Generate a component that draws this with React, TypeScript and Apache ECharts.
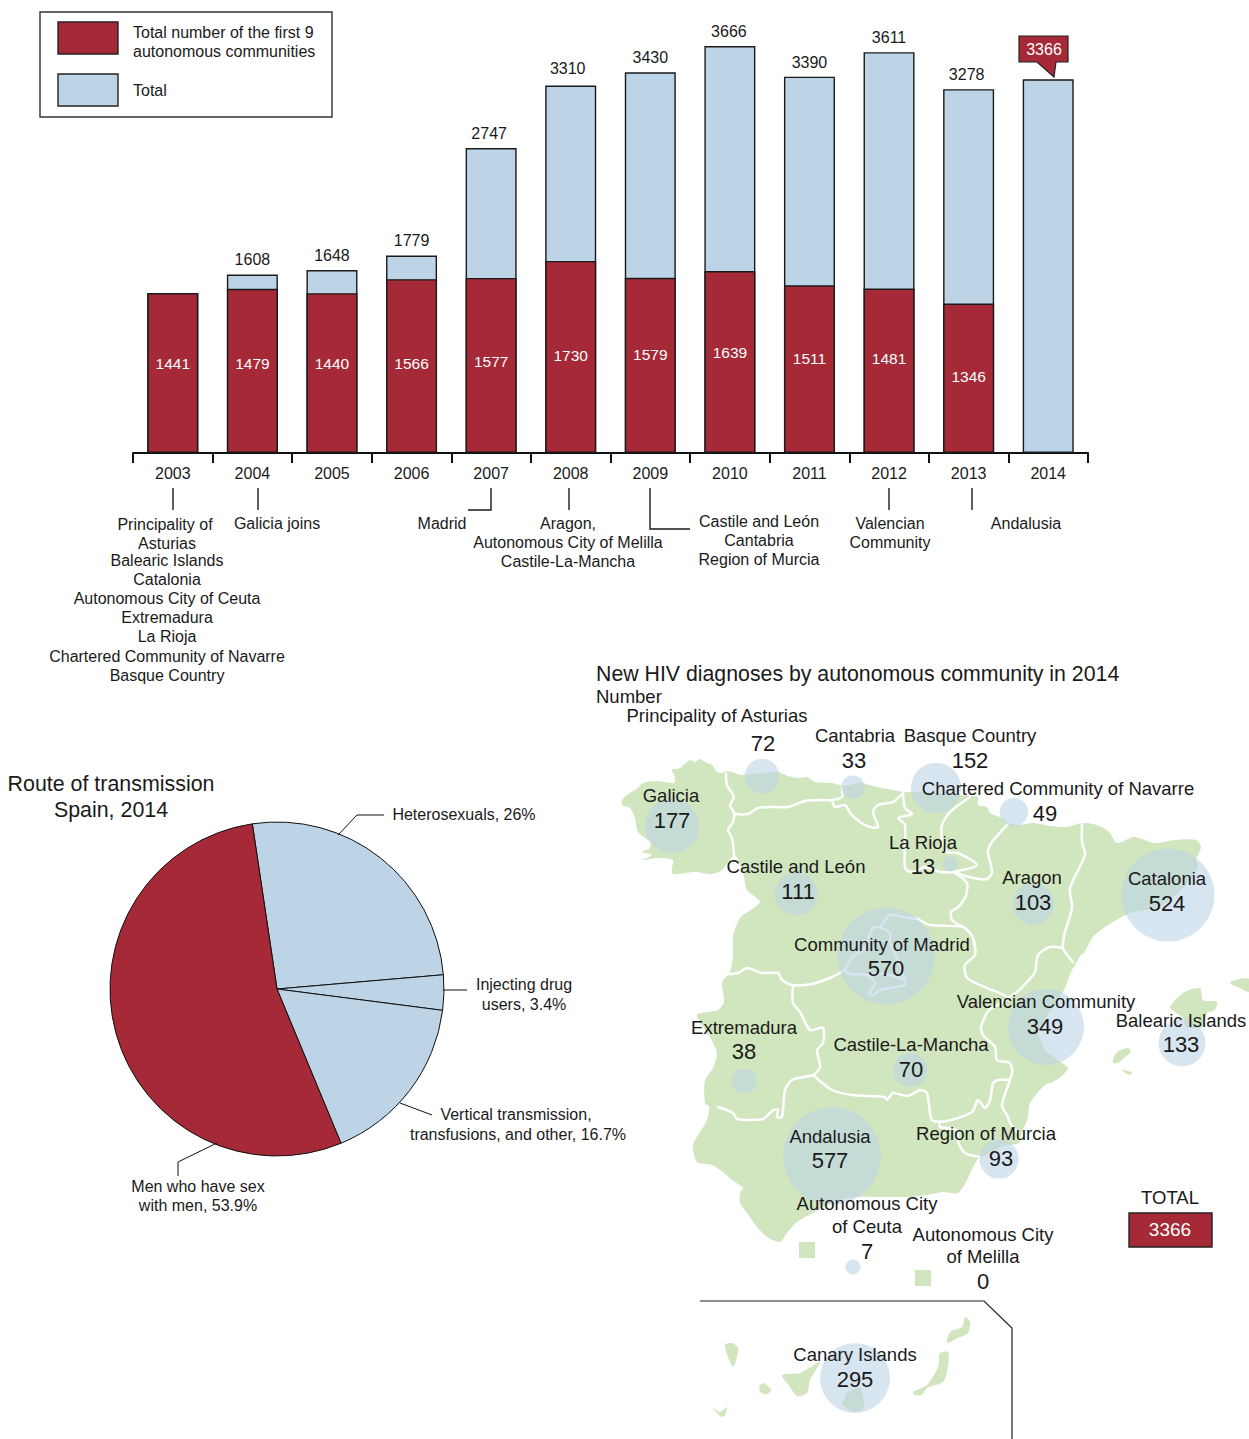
import React, { useEffect, useRef } from "react";
import * as echarts from "echarts";

const FONT = '"Liberation Sans", Arial, sans-serif';
const RED = "#A52936";
const BLUE = "#BCD4E6";
const GREEN = "#D1E6BF";
const INK = "#1a1a1a";

// ---- bar chart data
const years = ["2003","2004","2005","2006","2007","2008","2009","2010","2011","2012","2013","2014"];
const firstNine = [1441,1479,1440,1566,1577,1730,1579,1639,1511,1481,1346,null];
const totals = [1441,1608,1648,1779,2747,3310,3430,3666,3390,3611,3278,3366];
const redLabelRise = [90,90,90,90,92,98,99,101,95,95,77,0];
const totalLabelShift = [[0,0],[0,0],[0,0],[0,0],[-2,0],[-3,-2],[0,0],[-1,0],[0,1],[0,0],[-2,0],[0,0]];

// ---- pie data
const routes = [
  { name: "Heterosexuals", value: 26, color: BLUE },
  { name: "Injecting drug users", value: 3.4, color: BLUE },
  { name: "Vertical transmission, transfusions, and other", value: 16.7, color: BLUE },
  { name: "Men who have sex with men", value: 53.9, color: RED },
];

// ---- map data (map coordinates of the drawn outline)
const mainland: number[][] = [
  [622,800],[627,795],[638,788],[643,783],[658,781],[674,783],[675,777],[672,770],[680,768],[690,760],[695,762],[700,759],[707,763],[712,765],[717,772],[722,773],[727,771],
  [742,775],[762,773],[778,772],[788,776],[798,778],[807,777],[815,782],[832,783],[845,786],[860,783],[877,787],[893,790],[905,792],[927,792],[950,794],[970,796],[978,797],[978,805],[987,807],[990,813],[1002,818],[1007,822],[1017,825],[1033,823],[1050,826],[1067,827],[1082,823],
  [1097,825],[1109,832],[1117,843],[1134,837],[1155,843],[1175,840],[1196,840],[1201,847],[1196,860],[1198,867],[1184,887],[1159,907],[1130,913],[1105,927],[1093,937],[1084,953],[1080,956],[1077,962],[1073,968],[1071,972],[1064,990],[1057,1000],[1039,1033],[1045,1050],[1058,1060],[1068,1068],[1063,1075],[1053,1082],[1045,1085],[1030,1103],[1028,1117],[1020,1138],[1020,1143],[1003,1146],[985,1155],[977,1160],[967,1180],[958,1193],[943,1192],[927,1195],[907,1197],[880,1197],[855,1197],[833,1202],[813,1213],[797,1222],[787,1233],[780,1242],[767,1237],[757,1227],[747,1213],[740,1203],[740,1193],[743,1188],[732,1180],[723,1172],[712,1165],[697,1162],[693,1145],[700,1132],[707,1120],[709,1106],[705,1104],[705,1080],[713,1068],[717,1053],[710,1037],[697,1015],[718,1010],[724,1002],[723,992],[722,982],[730,972],[733,955],[733,937],[740,918],[760,902],[747,890],[743,872],[735,855],[728,862],[722,870],[712,874],[695,872],[673,874],[672,868],[673,860],[658,858],[643,860],[652,855],[642,852],[650,848],[650,842],[638,832],[635,818],[630,808],[622,805],
];
const islands: number[][][] = [
  [[1170,1007],[1183,993],[1200,988],[1203,1000],[1217,1002],[1215,1010],[1207,1013],[1203,1027],[1187,1027],[1182,1017],[1175,1012]],
  [[1230,982],[1240,979],[1249,979],[1249,992],[1240,988],[1233,985]],
  [[1113,1060],[1117,1052],[1128,1048],[1131,1052],[1125,1057],[1118,1063],[1113,1063]],
  [[1122,1069],[1127,1071],[1132,1072],[1130,1075],[1125,1073]],
  [[725,1345],[732,1343],[738,1348],[737,1357],[733,1367],[728,1357]],
  [[782,1375],[800,1373],[820,1362],[810,1380],[807,1393],[797,1396],[790,1387]],
  [[760,1385],[764,1383],[771,1390],[767,1394],[760,1392]],
  [[713,1408],[720,1412],[727,1407],[725,1415],[722,1417],[717,1413]],
  [[848,1392],[860,1388],[864,1407],[855,1412],[843,1405],[845,1397]],
  [[913,1392],[927,1385],[938,1367],[940,1353],[948,1352],[948,1367],[943,1382],[927,1388],[922,1395],[915,1395]],
  [[947,1343],[950,1332],[962,1327],[965,1317],[970,1322],[968,1333],[958,1338]],
];
const cityTerritories: number[][][] = [
  [[799,1242],[815,1242],[815,1258],[799,1258]],
  [[915,1270],[931,1270],[931,1286],[915,1286]],
];
const regionBorders: number[][][] = [
  [[726,773],[727,785],[734,797],[730,805],[734,813],[733,822],[728,830],[732,838],[734,855]],
  [[734,814],[748,814],[758,808],[772,807],[788,807],[805,801],[822,800],[832,800],[842,797],[842,788]],
  [[832,800],[835,807],[845,805],[850,813],[860,822],[870,827],[878,827],[873,812],[878,805],[893,802],[903,793]],
  [[903,793],[905,808],[912,814],[898,818],[905,825],[905,868],[913,872],[925,867],[940,872],[953,872]],
  [[970,797],[950,812],[942,825],[942,838],[947,852],[958,853],[977,865],[953,872]],
  [[1013,817],[1007,825],[992,842],[988,852],[992,872],[987,879],[973,878],[953,872]],
  [[953,872],[967,883],[965,898],[957,908],[951,912],[952,920],[963,927]],
  [[918,919],[930,925],[963,927],[973,938],[975,955],[965,965],[967,978],[987,988],[1008,998],[989,1010],[981,1027],[983,1035],[995,1047],[997,1060],[1010,1063],[1012,1073],[1002,1105],[1008,1117],[1010,1123],[1018,1133]],
  [[1082,824],[1082,842],[1085,855],[1070,888],[1072,908],[1065,932],[1063,948],[1073,962]],
  [[1063,948],[1050,947],[1038,955],[1035,972],[1027,982],[1017,992],[1008,998]],
  [[1010,1080],[998,1080],[993,1083],[990,1100],[985,1108],[978,1100],[972,1112],[947,1121],[932,1120],[927,1093],[920,1090],[908,1096],[893,1093],[887,1100],[885,1097],[852,1095],[832,1090],[813,1075]],
  [[940,1122],[940,1127],[957,1130],[958,1142],[965,1153],[980,1157]],
  [[793,985],[793,1003],[800,1012],[810,1030],[823,1028],[823,1043],[817,1050],[820,1067],[813,1075],[792,1080],[785,1090],[782,1117],[777,1117],[778,1110],[773,1110],[763,1119],[737,1119],[733,1113],[718,1107]],
  [[728,974],[738,973],[747,968],[762,973],[778,973],[782,980],[792,985],[812,984],[832,977],[845,970]],
  [[918,919],[908,918],[890,915],[883,923],[880,927],[873,928],[868,940],[865,948],[853,957],[845,970],[850,974],[867,975],[875,983],[869,993],[873,995],[880,990],[905,985],[905,980],[898,960],[890,943],[890,933],[880,927]],
  [[867,975],[885,974],[905,980]],
];
const bubbles: [string, number, number, number][] = [
  ["Principality of Asturias",762,776,72],
  ["Cantabria",853,787,33],
  ["Basque Country",936,788,152],
  ["Chartered Community of Navarre",1014,812,49],
  ["Galicia",672,826,177],
  ["Castile and León",796,894,111],
  ["La Rioja",950,864,13],
  ["Aragon",1033,904,103],
  ["Catalonia",1168,895,524],
  ["Community of Madrid",886,956,570],
  ["Valencian Community",1046,1027,349],
  ["Balearic Islands",1182,1043,133],
  ["Castile-La-Mancha",910,1070,70],
  ["Extremadura",744,1081,38],
  ["Andalusia",832,1156,577],
  ["Region of Murcia",999,1159,93],
  ["Autonomous City of Ceuta",853,1267,7],
  ["Canary Islands",855,1378,295],
];

// ---- texts: [text, x, y]
const joinNotes: [string, number, number][] = [
  ["Principality of",165,525],["Asturias",167,544],["Balearic Islands",167,561],["Catalonia",167,580],
  ["Autonomous City of Ceuta",167,599],["Extremadura",167,618],["La Rioja",167,637],
  ["Chartered Community of Navarre",167,657],["Basque Country",167,676],
  ["Galicia joins",277,524],["Madrid",442,524],
  ["Aragon,",568,524],["Autonomous City of Melilla",568,543],["Castile-La-Mancha",568,562],
  ["Castile and León",759,522],["Cantabria",759,541],["Region of Murcia",759,560],
  ["Valencian",890,524],["Community",890,543],["Andalusia",1026,524],
];
const joinLeaders: number[][][] = [
  [[173,488],[173,510]],[[258,488],[258,510]],[[491,488],[491,510],[468,510]],
  [[569,488],[569,510]],[[650,488],[650,529],[690,529]],[[889,488],[889,510]],[[972,488],[972,510]],
];
const pieNotes: [string, number, number][] = [
  ["Heterosexuals, 26%",464,815],["Injecting drug",524,985],["users, 3.4%",524,1005],
  ["Vertical transmission,",516,1115],["transfusions, and other, 16.7%",518,1135],
  ["Men who have sex",198,1187],["with men, 53.9%",198,1206],
];
const pieLeaders: number[][][] = [
  [[338,835],[357,815],[384,815]],[[443,990],[467,990]],[[400,1103],[432,1115]],[[217,1143],[178,1162],[178,1176]],
];
const mapNames: [string, number, number][] = [
  ["Principality of Asturias",717,716],["Cantabria",855,736],["Basque Country",970,736],
  ["Chartered Community of Navarre",1058,789],["Galicia",671,796],["La Rioja",923,843],
  ["Castile and León",796,867],["Aragon",1032,878],["Catalonia",1167,879],
  ["Community of Madrid",882,945],["Valencian Community",1046,1002],["Balearic Islands",1181,1021],
  ["Extremadura",744,1028],["Castile-La-Mancha",911,1045],["Andalusia",830,1137],
  ["Region of Murcia",986,1134],["Autonomous City",867,1204],["of Ceuta",867,1227],
  ["Autonomous City",983,1235],["of Melilla",983,1257],["Canary Islands",855,1355],
];
const mapValues: [string, number, number][] = [
  ["72",763,744],["33",854,761],["152",970,761],["49",1045,814],["177",672,821],["13",923,867],
  ["111",798,892],["103",1033,903],["524",1167,904],["570",886,969],["349",1045,1027],["133",1181,1045],
  ["38",744,1052],["70",911,1070],["577",830,1161],["93",1001,1159],["7",867,1252],["0",983,1282],["295",855,1380],
];

const txt = (text: string, x: number, y: number, size: number, align = "center", fill = INK) => ({
  type: "text", x, y: y - 0.5, z: 100,
  style: { text, fill, font: `${size}px ${FONT}`, textAlign: align, textVerticalAlign: "middle" },
});
const line = (pts: number[][], stroke = INK, lineWidth = 1.4) => ({
  type: "polyline", z: 90, shape: { points: pts }, style: { stroke, lineWidth, fill: "none" },
});
const rect = (x: number, y: number, width: number, height: number, fill: string, stroke = "#222") => ({
  type: "rect", z: 90, shape: { x, y, width, height }, style: { fill, stroke, lineWidth: 1.4 },
});

export default function App() {
  const ref = useRef<HTMLDivElement>(null);
  useEffect(() => {
    document.body.style.margin = "0";
    const chart = echarts.init(ref.current!, undefined, { renderer: "svg" });
    const landShapes = [mainland, ...islands];
    const graphics: any[] = [
      rect(40, 12, 292, 105, "#fff", "#333"),
      rect(58, 22, 60, 32, RED),
      rect(58, 74, 60, 32, BLUE),
      txt("Total number of the first 9", 133, 33, 16, "left"),
      txt("autonomous communities", 133, 52, 16, "left"),
      txt("Total", 133, 91, 16, "left"),
      { type: "polygon", z: 90, shape: { points: [[1019,36],[1068,36],[1068,62],[1056,62],[1054,77],[1037,62],[1019,62]] }, style: { fill: RED, stroke: "#222", lineWidth: 1.2 } },
      txt(String(totals[11]), 1044, 50, 16, "center", "#fff"),
      ...joinNotes.map(([t, x, y]) => txt(t, x, y, 16)),
      ...joinLeaders.map((p) => line(p)),
      txt("Route of transmission", 111, 784, 21.4),
      txt("Spain, 2014", 111, 810, 21.4),
      ...pieNotes.map(([t, x, y]) => txt(t, x, y, 16)),
      ...pieLeaders.map((p) => line(p, "#111", 1)),
      txt("New HIV diagnoses by autonomous community in 2014", 596, 674, 21.3, "left"),
      txt("Number", 596, 697, 18.5, "left"),
      ...mapNames.map(([t, x, y]) => txt(t, x, y, 18.5)),
      ...mapValues.map(([t, x, y]) => txt(t, x, y, 22)),
      txt("TOTAL", 1170, 1198, 18.5),
      rect(1129, 1213, 83, 34, RED),
      txt(String(totals[11]), 1170, 1230, 19, "center", "#fff"),
      line([[700,1301],[984,1301],[1012,1328],[1012,1439]], "#222", 1.2),
    ];
    chart.setOption({
      animation: false,
      textStyle: { fontFamily: FONT },
      grid: [
        { left: 133, top: 9, width: 955, height: 444 },
        { left: 0, top: 0, width: 1249, height: 1439 },
      ],
      xAxis: [
        {
          type: "category", gridIndex: 0, data: years,
          axisLine: { lineStyle: { color: "#111", width: 2 } },
          axisTick: { show: true, length: 10, interval: 0, lineStyle: { color: "#111", width: 2 } },
          axisLabel: { interval: 0, margin: 12, color: INK, fontSize: 16, fontFamily: FONT },
        },
        { type: "value", gridIndex: 1, min: 0, max: 1249, show: false },
      ],
      yAxis: [
        { type: "value", gridIndex: 0, min: 0, max: 4000, show: false },
        { type: "value", gridIndex: 1, min: 0, max: 1439, inverse: true, show: false },
      ],
      series: [
        {
          name: "Total", type: "bar", xAxisIndex: 0, yAxisIndex: 0, barWidth: 51, barGap: "-100%",
          itemStyle: { color: BLUE, borderColor: "#1a1a1a", borderWidth: 1.4 },
          data: totals.map((v, i) => ({
            value: v,
            label: {
              show: i > 0 && i < 11, position: "top", distance: 7,
              offset: totalLabelShift[i],
              color: INK, fontSize: 16, fontFamily: FONT,
            },
          })),
        },
        {
          name: "Total number of the first 9 autonomous communities", type: "bar", xAxisIndex: 0, yAxisIndex: 0, barWidth: 51,
          itemStyle: { color: RED, borderColor: "#1a1a1a", borderWidth: 1.4 },
          data: firstNine.map((v, i) => ({
            value: v,
            label: {
              show: v != null, position: "insideBottom", distance: redLabelRise[i] - 8,
              color: "#fff", fontSize: 15.5, fontFamily: FONT,
            },
          })),
        },
        {
          type: "pie", center: [277, 989], radius: 167, startAngle: 98.5, clockwise: true,
          label: { show: false }, labelLine: { show: false }, silent: true,
          itemStyle: { borderColor: "#111", borderWidth: 1 },
          data: routes.map((r) => ({ name: r.name, value: r.value, itemStyle: { color: r.color } })),
        },
        {
          type: "custom", xAxisIndex: 1, yAxisIndex: 1, clip: false, z: 1, silent: true,
          data: landShapes.map((s) => s[0]),
          renderItem: (params: any, api: any) => ({
            type: "polygon",
            shape: { points: landShapes[params.dataIndex].map((p) => api.coord(p)), smooth: 0.25 },
            style: { fill: GREEN, stroke: "none" },
          }),
        },
        {
          type: "custom", xAxisIndex: 1, yAxisIndex: 1, clip: false, z: 1, silent: true,
          data: cityTerritories.map((s) => s[0]),
          renderItem: (params: any, api: any) => ({
            type: "polygon",
            shape: { points: cityTerritories[params.dataIndex].map((p) => api.coord(p)) },
            style: { fill: GREEN, stroke: "none" },
          }),
        },
        {
          type: "custom", xAxisIndex: 1, yAxisIndex: 1, clip: false, z: 2, silent: true,
          data: regionBorders.map((s) => s[0]),
          renderItem: (params: any, api: any) => ({
            type: "polyline",
            shape: { points: regionBorders[params.dataIndex].map((p) => api.coord(p)), smooth: 0.25 },
            style: { stroke: "#fff", lineWidth: 2.5, fill: "none", lineJoin: "round", lineCap: "round" },
          }),
        },
        {
          type: "scatter", xAxisIndex: 1, yAxisIndex: 1, z: 3, silent: true,
          symbolSize: (v: number[]) => Math.max(15, Math.sqrt(v[2]) * 4.06),
          itemStyle: { color: BLUE, opacity: 0.6 },
          data: bubbles.map(([name, x, y, v]) => ({ name, value: [x, y, v] })),
        },
      ],
      graphic: { elements: graphics },
    });
    return () => chart.dispose();
  }, []);
  return <div ref={ref} style={{ position: "absolute", left: 0, top: 0, width: 1249, height: 1439 }} />;
}
